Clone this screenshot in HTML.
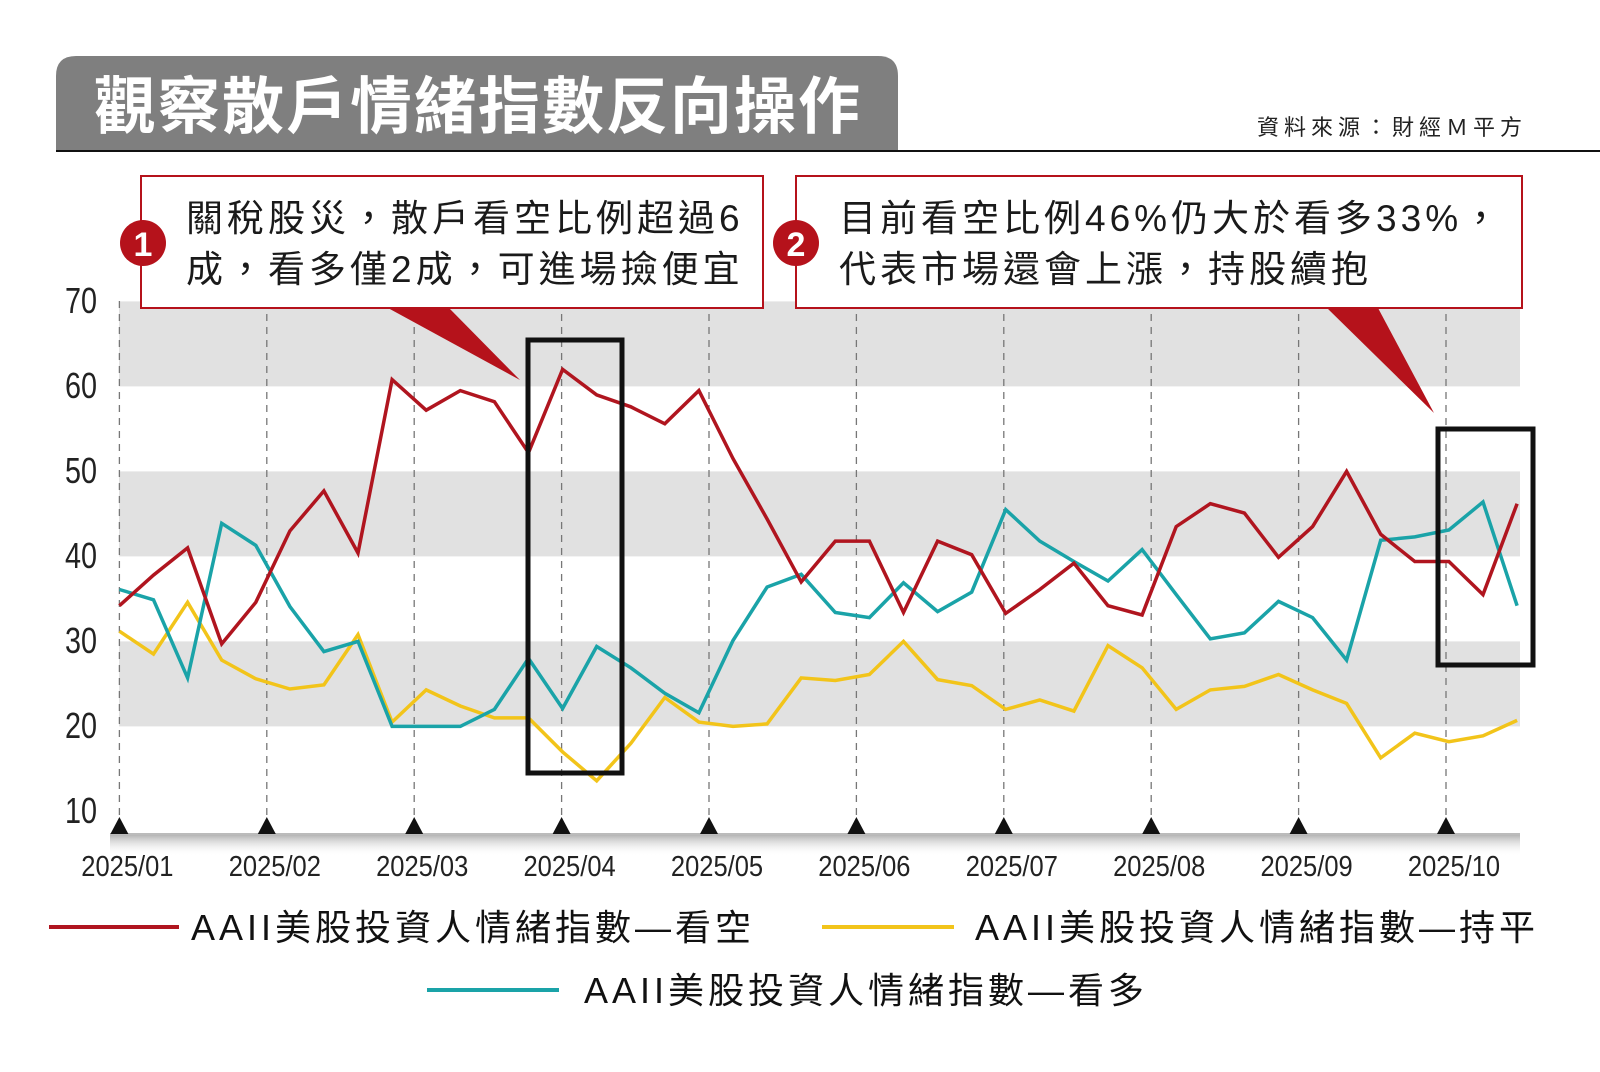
<!DOCTYPE html>
<html><head><meta charset="utf-8">
<style>
html,body{margin:0;padding:0;background:#fff;}
body{width:1600px;height:1067px;overflow:hidden;}
svg text{font-family:"Liberation Sans","Noto Sans CJK TC",sans-serif;}
</style></head>
<body>
<svg id="c" width="1600" height="1067" viewBox="0 0 1600 1067" xmlns="http://www.w3.org/2000/svg">
<defs>
<linearGradient id="sh" x1="0" y1="0" x2="0" y2="1">
<stop offset="0" stop-color="#999" stop-opacity="0.8"/><stop offset="1" stop-color="#fff" stop-opacity="0"/>
</linearGradient>
</defs>
<path d="M56,151 L56,76 Q56,56 76,56 L878,56 Q898,56 898,76 L898,151 Z" fill="#7f7f7f"/>
<line x1="56" y1="151" x2="1600" y2="151" stroke="#111" stroke-width="2"/>
<text x="94" y="128" font-size="62" font-weight="bold" fill="#fff" letter-spacing="2">觀察散戶情緒指數反向操作</text>
<text x="1257" y="135" font-size="22" fill="#222" letter-spacing="5">資料來源：財經Ｍ平方</text>

<rect x="119" y="301.4" width="1401" height="85" fill="#e1e1e1"/>
<rect x="119" y="471.4" width="1401" height="85" fill="#e1e1e1"/>
<rect x="119" y="641.4" width="1401" height="85" fill="#e1e1e1"/>
<g id="vl" stroke="#777" stroke-width="1.3" stroke-dasharray="7,6"></g>
<rect x="110" y="834" width="1410" height="22" fill="url(#sh)"/>
<line x1="110" y1="834" x2="1520" y2="834" stroke="#bbb" stroke-width="2"/>
<g id="tri" fill="#111"></g>

<g font-size="36" fill="#222" text-anchor="end" transform="translate(97,0)">
<text x="0" y="313" transform="scale(0.8,1)">70</text>
<text x="0" y="398" transform="scale(0.8,1)">60</text>
<text x="0" y="483" transform="scale(0.8,1)">50</text>
<text x="0" y="568" transform="scale(0.8,1)">40</text>
<text x="0" y="653" transform="scale(0.8,1)">30</text>
<text x="0" y="738" transform="scale(0.8,1)">20</text>
<text x="0" y="823" transform="scale(0.8,1)">10</text>
</g>
<g id="xl" font-size="29" fill="#222" text-anchor="middle"></g>

<g id="lines" fill="none" stroke-width="3.5" stroke-linejoin="miter"></g>

<polygon points="388,308 449,308 520,380" fill="#b5121b"/>
<polygon points="1327,308 1378,308 1434,413" fill="#b5121b"/>
<rect x="141" y="176" width="622" height="132" fill="#fff" stroke="#b5121b" stroke-width="2"/>
<rect x="796" y="176" width="726" height="132" fill="#fff" stroke="#b5121b" stroke-width="2"/>
<circle cx="143" cy="243" r="23" fill="#b5121b"/>
<text x="143" y="256" font-size="34" font-weight="bold" fill="#fff" text-anchor="middle">1</text>
<circle cx="796" cy="243" r="23" fill="#b5121b"/>
<text x="796" y="256" font-size="34" font-weight="bold" fill="#fff" text-anchor="middle">2</text>
<g font-size="37" fill="#1a1a1a" letter-spacing="4">
<text x="186" y="231">關稅股災，散戶看空比例超過6</text>
<text x="186" y="282">成，看多僅2成，可進場撿便宜</text>
<text x="839" y="231">目前看空比例46%仍大於看多33%，</text>
<text x="839" y="282">代表市場還會上漲，持股續抱</text>
</g>

<rect x="528" y="340" width="94" height="433" fill="none" stroke="#111" stroke-width="5"/>
<rect x="1438" y="429" width="95" height="236" fill="none" stroke="#111" stroke-width="5"/>

<g font-size="36" fill="#111" letter-spacing="4">
<line x1="49" y1="927" x2="179" y2="927" stroke="#b0151f" stroke-width="4"/>
<text x="191" y="940">AAII美股投資人情緒指數—看空</text>
<line x1="822" y1="927" x2="954" y2="927" stroke="#f2c41a" stroke-width="4"/>
<text x="975" y="940">AAII美股投資人情緒指數—持平</text>
<line x1="427" y1="990" x2="559" y2="990" stroke="#1aa3a8" stroke-width="4"/>
<text x="584" y="1003">AAII美股投資人情緒指數—看多</text>
</g>
</svg>
<script>
var NS="http://www.w3.org/2000/svg";
function el(t,a,p){var e=document.createElementNS(NS,t);for(var k in a)e.setAttribute(k,a[k]);p.appendChild(e);return e;}
var vl=document.getElementById('vl'),tri=document.getElementById('tri'),xl=document.getElementById('xl');
for(var m=0;m<10;m++){var x=119.4+m*147.4;
el('line',{x1:x,y1:301,x2:x,y2:834},vl);
el('polygon',{points:(x-9)+',834 '+(x+9)+',834 '+x+',817'},tri);
var t=el('text',{x:(x+8)/0.88,y:876,transform:'scale(0.88,1)'},xl);t.textContent='2025/'+(m<9?'0':'')+(m+1);}
var R=[34.2,37.8,41,29.7,34.6,43,47.7,40.4,60.8,57.2,59.5,58.2,52.2,62,59,57.6,55.6,59.5,51.5,44.4,37,41.8,41.8,33.4,41.8,40.2,33.3,36.1,39.2,34.2,33.1,43.5,46.2,45.1,39.9,43.5,50,42.6,39.4,39.4,35.5,46.2];
var T=[36.1,34.9,25.7,43.9,41.3,34.1,28.8,30,20,20,20,22,28,22.1,29.4,26.9,23.9,21.6,30.1,36.4,37.9,33.4,32.8,36.9,33.5,35.8,45.5,41.8,39.4,37.1,40.8,35.5,30.3,31,34.7,32.8,27.8,41.9,42.3,43.1,46.4,34.2];
var Y=[31.2,28.5,34.6,27.8,25.6,24.4,24.9,30.8,20.5,24.3,22.4,21,21,17,13.6,18,23.4,20.5,20,20.3,25.7,25.4,26.1,30,25.5,24.8,22,23.1,21.8,29.5,26.9,22,24.3,24.7,26.1,24.3,22.7,16.3,19.2,18.2,18.9,20.7];
var g=document.getElementById('lines');
function pl(d,c){var p=d.map(function(v,i){return (119.4+i*34.09).toFixed(1)+','+(301.4+(70-v)*8.5).toFixed(1);}).join(' ');el('polyline',{points:p,stroke:c},g);}
pl(Y,'#f2c41a');pl(T,'#1aa3a8');pl(R,'#b0151f');
</script>
</body></html>
